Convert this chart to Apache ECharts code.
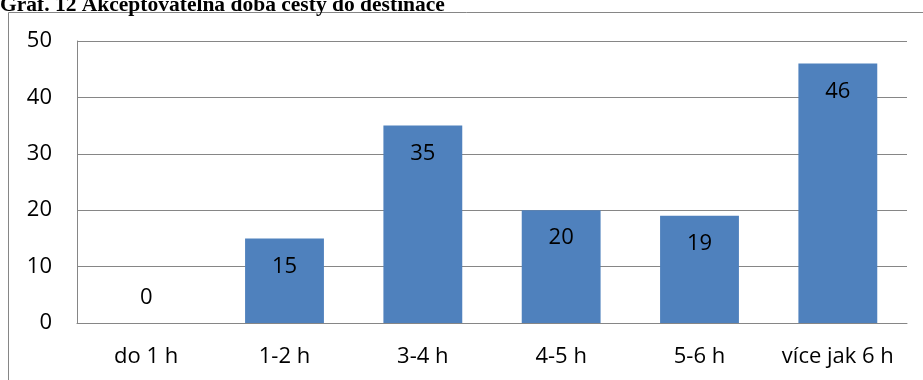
<!DOCTYPE html>
<html>
<head>
<meta charset="utf-8">
<script src="https://cdn.jsdelivr.net/npm/echarts@6/dist/echarts.min.js"></script>
<style>
html,body{margin:0;padding:0;background:#fff;}
#chart{width:923px;height:380px;}
</style>
</head>
<body>
<div id="chart"></div>
<script>
// Acceptable travel time to destination (count of answers)
const categories = ['do 1 h', '1-2 h', '3-4 h', '4-5 h', '5-6 h', 'více jak 6 h'];
const values = [0, 15, 35, 20, 19, 46];
const yTicks = [0, 10, 20, 30, 40, 50];
const chartTitle = 'Graf. 12 Akceptovatelná doba cesty do destinace';

const labelFont = 'Open Sans, Noto Sans, sans-serif';
const labelSize = 22;
const chart = echarts.init(document.getElementById('chart'), null, {renderer: 'canvas'});

chart.setOption({
  animation: false,
  backgroundColor: '#fff',
  title: {
    text: chartTitle,
    left: 0,
    top: -6,
    padding: 0,
    textStyle: {fontFamily: 'Liberation Serif, DejaVu Serif, serif', fontWeight: 'bold', fontSize: 21.5, color: '#000'}
  },
  graphic: [{
    type: 'rect',
    shape: {x: 8.5, y: 12.5, width: 930, height: 400},
    style: {fill: 'none', stroke: '#868686', lineWidth: 1},
    silent: true
  }],
  grid: {left: 77, right: 16, top: 41, bottom: 57, containLabel: false},
  xAxis: {
    type: 'category',
    data: categories,
    axisLine: {lineStyle: {color: '#868686', width: 1}},
    axisTick: {show: false},
    axisLabel: {interval: 0, color: '#000', fontFamily: labelFont, fontSize: labelSize, margin: 23}
  },
  yAxis: {
    type: 'value',
    min: yTicks[0],
    max: yTicks[yTicks.length - 1],
    interval: yTicks[1] - yTicks[0],
    axisLine: {show: true, lineStyle: {color: '#868686', width: 1}},
    axisTick: {show: false},
    splitLine: {lineStyle: {color: '#868686', width: 1}},
    axisLabel: {color: '#000', fontFamily: labelFont, fontSize: labelSize, margin: 25}
  },
  series: [{
    type: 'bar',
    barWidth: '57%',
    data: values.map(v => ({
      value: v,
      label: v === 0 ? {position: 'top', distance: 14} : {position: 'insideTop', distance: 17}
    })),
    itemStyle: {color: '#4f81bd'},
    label: {show: true, color: '#000', fontFamily: labelFont, fontSize: labelSize}
  }]
});
</script>
</body>
</html>
